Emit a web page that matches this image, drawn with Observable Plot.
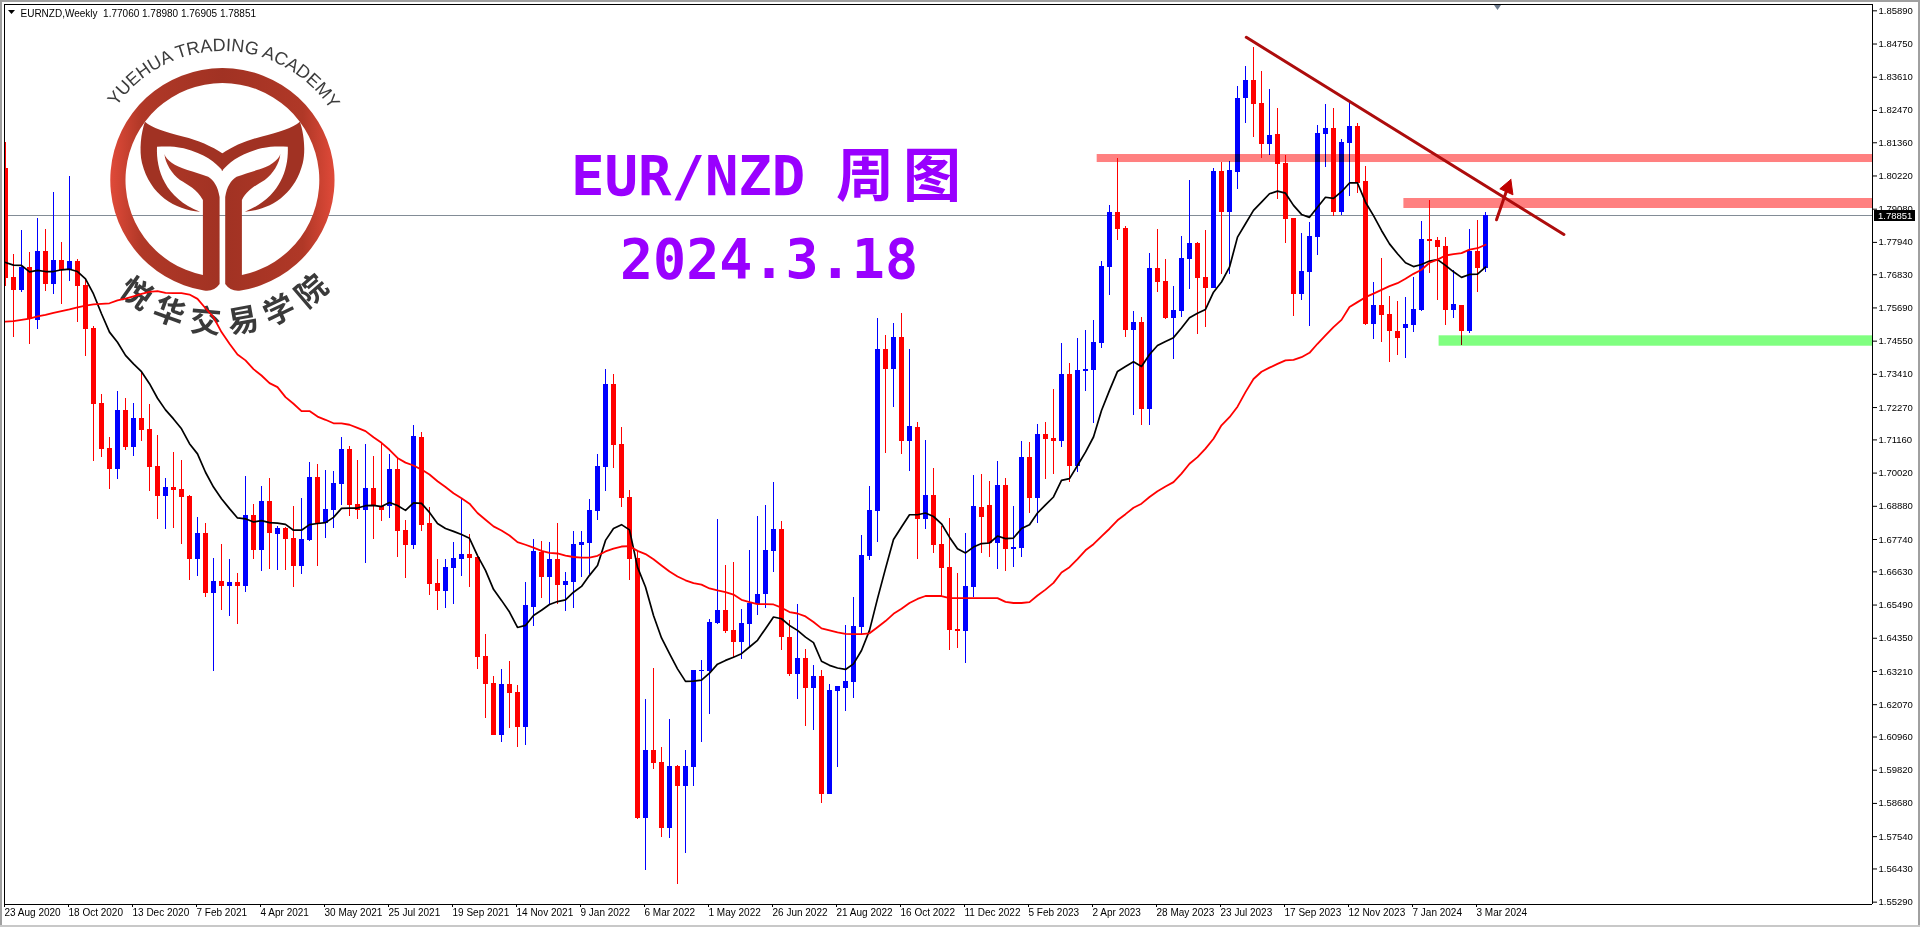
<!DOCTYPE html>
<html lang="zh">
<head>
<meta charset="utf-8">
<title>EUR/NZD 周图</title>
<script src="https://cdn.jsdelivr.net/npm/d3@7"></script>
<script src="https://cdn.jsdelivr.net/npm/@observablehq/plot@0.6"></script>
<style>
html,body{margin:0;padding:0;background:#fff;overflow:hidden}
svg{display:block;max-width:none}
</style>
</head>
<body>
<div id="chart"></div>
<script>
const opens=[1.8048,1.7673,1.7629,1.7708,1.7527,1.7763,1.7649,1.7732,1.7698,1.7728,
1.7646,1.7498,1.7241,1.7087,1.7015,1.7217,1.7090,1.7190,1.7152,1.7025,
1.6922,1.6953,1.6946,1.6922,1.6706,1.6795,1.6589,1.6630,1.6613,1.6627,
1.6613,1.6857,1.6736,1.6905,1.6791,1.6812,1.6778,1.6682,1.6771,1.6987,
1.6829,1.6874,1.6963,1.7083,1.6894,1.6874,1.6949,1.6887,1.6887,1.7014,
1.6805,1.6754,1.7124,1.6829,1.6623,1.6596,1.6675,1.6706,1.6723,1.6712,
1.6373,1.6280,1.6102,1.6277,1.6249,1.6129,1.6541,1.6730,1.6644,1.6706,
1.6616,1.6627,1.6754,1.6760,1.6870,1.7021,1.7306,1.7100,1.6918,1.6709,
1.5817,1.6050,1.6009,1.5782,1.5995,1.5926,1.5992,1.6321,1.6321,1.6486,
1.6530,1.6462,1.6421,1.6483,1.6551,1.6586,1.6733,1.6809,1.6438,1.6311,
1.6366,1.6263,1.6304,1.5899,1.6253,1.6263,1.6283,1.6472,1.6716,1.6870,
1.7426,1.7358,1.7468,1.7111,1.7159,1.6843,1.6925,1.6757,1.6678,1.6465,
1.6458,1.6610,1.6884,1.6891,1.6761,1.6960,1.6740,1.6744,1.7056,1.6915,
1.7135,1.7121,1.7111,1.7341,1.7025,1.7351,1.7354,1.7447,1.7708,1.7897,
1.7842,1.7492,1.7519,1.7221,1.7704,1.7660,1.7533,1.7557,1.7735,1.7790,
1.7674,1.7636,1.8037,1.7897,1.8034,1.8288,1.8350,1.8271,1.8130,1.8164,
1.8065,1.7876,1.7615,1.7691,1.7811,1.8165,1.8185,1.7897,1.8134,1.8192,
1.8003,1.7512,1.7578,1.7547,1.7488,1.7499,1.7509,1.7560,1.7804,1.7801,
1.7780,1.7560,1.7578,1.7488,1.7763,1.77060];
const closes=[1.7671,1.7629,1.7708,1.7529,1.7763,1.7649,1.7732,1.7698,1.7728,1.7643,
1.7495,1.7238,1.7083,1.7015,1.7217,1.7090,1.7190,1.7148,1.7021,1.6922,
1.6953,1.6942,1.6918,1.6706,1.6795,1.6589,1.6630,1.6613,1.6627,1.6613,
1.6857,1.6736,1.6905,1.6795,1.6812,1.6774,1.6682,1.6774,1.6987,1.6829,
1.6877,1.6966,1.7083,1.6891,1.6874,1.6949,1.6887,1.6874,1.7014,1.6802,
1.6754,1.7128,1.6822,1.6620,1.6596,1.6678,1.6709,1.6723,1.6709,1.6369,
1.6277,1.6102,1.6277,1.6246,1.6129,1.6548,1.6733,1.6644,1.6706,1.6616,
1.6630,1.6757,1.6764,1.6874,1.7025,1.7306,1.7097,1.6915,1.6706,1.5817,
1.6050,1.6005,1.5782,1.5995,1.5926,1.5995,1.6325,1.6325,1.6489,1.6531,
1.6458,1.6421,1.6486,1.6555,1.6586,1.6737,1.6809,1.6438,1.6311,1.6366,
1.6263,1.6304,1.5899,1.6256,1.6270,1.6287,1.6476,1.6719,1.6874,1.7426,
1.7358,1.7468,1.7111,1.7162,1.6843,1.6925,1.6754,1.6675,1.6462,1.6458,
1.6613,1.6888,1.6850,1.6761,1.6960,1.6740,1.6747,1.7056,1.6915,1.7135,
1.7118,1.7111,1.7341,1.7025,1.7354,1.7358,1.7451,1.7711,1.7897,1.7838,
1.7492,1.7519,1.7221,1.7704,1.7656,1.7533,1.7560,1.7739,1.7790,1.7670,
1.7636,1.8037,1.7897,1.8041,1.8288,1.8350,1.8267,1.8130,1.8161,1.8061,
1.7873,1.7615,1.7694,1.7814,1.8168,1.8185,1.7897,1.8137,1.8192,1.7996,
1.7512,1.7578,1.7543,1.7488,1.7464,1.7512,1.7564,1.7804,1.7797,1.7777,
1.7560,1.7581,1.7488,1.7763,1.7705,1.78851];
const highs=[1.8137,1.7752,1.7835,1.7759,1.7876,1.7838,1.7965,1.7794,1.8020,1.7735,
1.7669,1.7505,1.7272,1.7124,1.7282,1.7258,1.7241,1.7347,1.7238,1.7131,
1.6984,1.7073,1.7045,1.6925,1.6850,1.6829,1.6709,1.6757,1.6705,1.6658,
1.6990,1.6894,1.6956,1.6984,1.6819,1.6815,1.6887,1.6915,1.7038,1.7032,
1.7011,1.7008,1.7124,1.7093,1.7045,1.7100,1.7059,1.7107,1.7066,1.7052,
1.6839,1.7166,1.7141,1.6884,1.6706,1.6706,1.6764,1.6911,1.6791,1.6716,
1.6448,1.6304,1.6328,1.6355,1.6273,1.6627,1.6774,1.6767,1.6764,1.6829,
1.6661,1.6802,1.6802,1.6911,1.7066,1.7358,1.7340,1.7159,1.6942,1.6737,
1.6225,1.6331,1.6060,1.6156,1.5999,1.6050,1.6325,1.6359,1.6500,1.6843,
1.6685,1.6695,1.6534,1.6737,1.6853,1.6891,1.6970,1.6836,1.6496,1.6551,
1.6397,1.6342,1.6325,1.6277,1.6270,1.6479,1.6575,1.6788,1.6956,1.7533,
1.7474,1.7516,1.7550,1.7426,1.7176,1.7114,1.7018,1.6819,1.6846,1.6658,
1.6795,1.6994,1.6997,1.6973,1.7042,1.6984,1.6888,1.7111,1.7107,1.7169,
1.7176,1.7289,1.7447,1.7378,1.7464,1.7492,1.7526,1.7729,1.7921,1.8082,
1.7849,1.7557,1.7536,1.7756,1.7838,1.7735,1.7643,1.7814,1.8006,1.7794,
1.7835,1.8049,1.8069,1.8072,1.8329,1.8398,1.8463,1.8381,1.8319,1.8254,
1.8092,1.7876,1.7825,1.7862,1.8195,1.8267,1.8254,1.8147,1.8281,1.8202,
1.8055,1.7657,1.7739,1.7609,1.7591,1.7605,1.7674,1.7866,1.7938,1.7811,
1.7811,1.7698,1.7578,1.7838,1.7869,1.78980];
const lows=[1.7644,1.7469,1.7622,1.7445,1.7495,1.7627,1.7615,1.7581,1.7660,1.7519,
1.7402,1.7042,1.7056,1.6946,1.6980,1.7080,1.7059,1.7111,1.6939,1.6843,
1.6809,1.6812,1.6757,1.6634,1.6647,1.6576,1.6321,1.6530,1.6510,1.6482,
1.6592,1.6706,1.6664,1.6671,1.6668,1.6668,1.6610,1.6654,1.6767,1.6682,
1.6778,1.6812,1.6891,1.6853,1.6843,1.6692,1.6774,1.6836,1.6846,1.6712,
1.6640,1.6740,1.6802,1.6582,1.6530,1.6537,1.6551,1.6647,1.6610,1.6328,
1.6160,1.6102,1.6078,1.6126,1.6060,1.6067,1.6476,1.6572,1.6551,1.6551,
1.6527,1.6537,1.6644,1.6654,1.6839,1.6939,1.7017,1.6884,1.6633,1.5813,
1.5638,1.5985,1.5751,1.5748,1.5590,1.5697,1.5926,1.6078,1.6174,1.6482,
1.6452,1.6369,1.6362,1.6404,1.6513,1.6538,1.6661,1.6393,1.6304,1.6225,
1.6133,1.6119,1.5868,1.5899,1.5992,1.6184,1.6229,1.6448,1.6702,1.6764,
1.7069,1.7227,1.7066,1.7008,1.6706,1.6809,1.6726,1.6579,1.6393,1.6400,
1.6349,1.6575,1.6726,1.6713,1.6671,1.6665,1.6678,1.6713,1.6864,1.6829,
1.6980,1.6997,1.7090,1.6970,1.7004,1.7282,1.7172,1.7430,1.7612,1.7801,
1.7468,1.7200,1.7166,1.7166,1.7622,1.7529,1.7392,1.7536,1.7632,1.7478,
1.7502,1.7636,1.7684,1.7684,1.7976,1.8202,1.8154,1.8082,1.8092,1.7941,
1.7790,1.7540,1.7595,1.7506,1.7749,1.8051,1.7883,1.7886,1.7952,1.7962,
1.7509,1.7461,1.7451,1.7382,1.7406,1.7396,1.7485,1.7557,1.7687,1.7595,
1.7509,1.7533,1.7440,1.7481,1.7622,1.76905];
const maFast=[1.7725,1.7716,1.7715,1.7693,1.7698,1.7694,1.7694,1.7700,1.7702,1.7694,
1.7669,1.7617,1.7549,1.7486,1.7451,1.7406,1.7377,1.7350,1.7309,1.7259,
1.7219,1.7188,1.7154,1.7103,1.7068,1.7005,1.6954,1.6914,1.6880,1.6848,
1.6845,1.6834,1.6839,1.6832,1.6830,1.6826,1.6806,1.6806,1.6825,1.6829,
1.6832,1.6850,1.6881,1.6882,1.6882,1.6890,1.6891,1.6887,1.6901,1.6891,
1.6874,1.6900,1.6898,1.6867,1.6829,1.6812,1.6802,1.6791,1.6778,1.6719,
1.6668,1.6603,1.6565,1.6525,1.6472,1.6479,1.6513,1.6531,1.6551,1.6561,
1.6567,1.6593,1.6613,1.6651,1.6685,1.6771,1.6812,1.6825,1.6807,1.6679,
1.6611,1.6513,1.6436,1.6382,1.6330,1.6287,1.6288,1.6291,1.6315,1.6346,
1.6359,1.6370,1.6382,1.6405,1.6428,1.6468,1.6508,1.6502,1.6479,1.6462,
1.6439,1.6420,1.6356,1.6342,1.6333,1.6328,1.6347,1.6393,1.6462,1.6571,
1.6674,1.6774,1.6817,1.6859,1.6859,1.6865,1.6853,1.6828,1.6782,1.6742,
1.6728,1.6748,1.6760,1.6762,1.6786,1.6777,1.6779,1.6812,1.6825,1.6865,
1.6893,1.6920,1.6977,1.6983,1.7028,1.7074,1.7126,1.7217,1.7286,1.7351,
1.7368,1.7384,1.7368,1.7409,1.7440,1.7454,1.7467,1.7500,1.7535,1.7551,
1.7564,1.7623,1.7658,1.7709,1.7812,1.7858,1.7904,1.7932,1.7961,1.7970,
1.7963,1.7921,1.7890,1.7880,1.7915,1.7949,1.7945,1.7968,1.7998,1.7998,
1.7932,1.7886,1.7835,1.7789,1.7755,1.7724,1.7711,1.7718,1.7730,1.7735,
1.7715,1.7693,1.7674,1.7684,1.7685,1.7709];
const maSlow=[1.7522,1.7524,1.7528,1.7532,1.7540,1.7545,1.7552,1.7558,1.7564,1.7571,
1.7577,1.7581,1.7583,1.7585,1.7595,1.7601,1.7609,1.7617,1.7624,1.7627,
1.7621,1.7620,1.7620,1.7615,1.7600,1.7568,1.7537,1.7486,1.7446,1.7409,
1.7389,1.7359,1.7337,1.7311,1.7297,1.7263,1.7240,1.7215,1.7215,1.7196,
1.7185,1.7173,1.7173,1.7168,1.7157,1.7146,1.7125,1.7106,1.7082,1.7054,
1.7038,1.7028,1.7014,1.6997,1.6974,1.6954,1.6933,1.6916,1.6897,1.6865,
1.6842,1.6819,1.6805,1.6788,1.6765,1.6756,1.6746,1.6735,1.6728,1.6726,
1.6719,1.6714,1.6712,1.6712,1.6718,1.6733,1.6743,1.6750,1.6751,1.6735,
1.6724,1.6706,1.6685,1.6664,1.6647,1.6634,1.6624,1.6619,1.6606,1.6599,
1.6593,1.6585,1.6567,1.6559,1.6552,1.6552,1.6551,1.6540,1.6525,1.6520,
1.6510,1.6491,1.6469,1.6462,1.6455,1.6450,1.6449,1.6449,1.6452,1.6473,
1.6494,1.6519,1.6536,1.6556,1.6570,1.6580,1.6580,1.6580,1.6573,1.6573,
1.6573,1.6573,1.6573,1.6573,1.6573,1.6560,1.6556,1.6556,1.6559,1.6582,
1.6602,1.6625,1.6661,1.6679,1.6707,1.6737,1.6758,1.6785,1.6811,1.6840,
1.6861,1.6883,1.6897,1.6920,1.6940,1.6956,1.6971,1.7000,1.7034,1.7057,
1.7086,1.7120,1.7166,1.7194,1.7230,1.7280,1.7325,1.7350,1.7364,1.7377,
1.7389,1.7391,1.7400,1.7415,1.7446,1.7475,1.7503,1.7528,1.7572,1.7589,
1.7606,1.7618,1.7631,1.7644,1.7654,1.7669,1.7686,1.7700,1.7724,1.7735,
1.7749,1.7754,1.7757,1.7769,1.7774,1.7786];

const dateLabels=["23 Aug 2020","18 Oct 2020","13 Dec 2020","7 Feb 2021","4 Apr 2021","30 May 2021","25 Jul 2021","19 Sep 2021","14 Nov 2021","9 Jan 2022","6 Mar 2022","1 May 2022","26 Jun 2022","21 Aug 2022","16 Oct 2022","11 Dec 2022","5 Feb 2023","2 Apr 2023","28 May 2023","23 Jul 2023","17 Sep 2023","12 Nov 2023","7 Jan 2024","3 Mar 2024"];
const dateTickStep=8;
const priceTicks=[1.85890,1.84750,1.83610,1.82470,1.81360,1.80220,1.79080,1.77940,1.76830,1.75690,1.74550,1.73410,1.72270,1.71160,1.70020,1.68880,1.67740,1.66630,1.65490,1.64350,1.63210,1.62070,1.60960,1.59820,1.58680,1.57540,1.56430,1.55290];

const lastPrice=1.78851;
const symbolLine="EURNZD,Weekly  1.77060 1.78980 1.76905 1.78851";
const trendX=[155.1,194.8], trendY=[1.8498,1.7821];
const arrowShaftX=[186.375,187.6], arrowShaftY=[1.78715,1.79687];
const arrowHeadX=[188.17,186.79,188.43,188.17], arrowHeadY=[1.80099,1.79779,1.79574,1.80099];
const zones=[
  {x1:136.46,y1:1.80682,y2:1.80957,fill:"#ff8080"},
  {x1:174.8,y1:1.79104,y2:1.79447,fill:"#ff8080"},
  {x1:179.2,y1:1.74376,y2:1.74733,fill:"#80ff80"}
];

const candles=opens.map((o,i)=>({i,open:o,close:closes[i],high:highs[i],low:lows[i],color:closes[i]>=o?"#0000ff":"#ff0000"}));
const fastLine=maFast.map((v,i)=>({i,v}));
const slowLine=maSlow.map((v,i)=>({i,v}));
const W=1920,H=927,L=4,R=1872,T=4,B=904;
const xDomain=[-1/8,(R-5)/8];
const yDomain=[1.86107,1.55210];

const NS="http://www.w3.org/2000/svg";
function group(html){const g=document.createElementNS(NS,"g");g.setAttribute("text-anchor","start");g.innerHTML=html;return g;}

const logoHalf=`M223 68 L222.4 68 A112 112 0 0 0 204 290.5 Q214 292 219.6 284 V197 C218 187 214 180 208.2 176.7 C195 172 178 168 172 163 C168 160 165 157 164.5 154 C165 163 172 174 180 180 C188 185 197 189 202.9 200 V275 A97 97 0 0 1 222.4 83 L223 83 Z`;
const logoWing=`M144.9 121.7 C152 128 165 132 183.7 136.7 C197 140 212 146 223 153.8 V171 C215 162 205 154 183.7 148.3 C173 146 165 146.5 157 146.7 C156 170 165 198 200 211.7 C175 210 150 195 142 163 C139 150 141 133 144.9 121.7 Z`;
const logoMark=()=>group(`
<defs>
<linearGradient id="ringGrad" x1="0" x2="1" y1="0" y2="0">
<stop offset="0" stop-color="#e04a39"/><stop offset=".28" stop-color="#b03827"/><stop offset="1" stop-color="#a13223"/>
</linearGradient>
<path id="arcTop" d="M93.4 180 A129 129 0 0 1 351.4 180"/>
<path id="arcBot" d="M69.4 180 A153 153 0 0 0 375.4 180"/>
</defs>
<path d="${logoHalf}" fill="url(#ringGrad)"/>
<path d="${logoHalf}" fill="url(#ringGrad)" transform="translate(444.8 0) scale(-1 1)"/>
<path d="${logoWing}" fill="#a13223"/>
<path d="${logoWing}" fill="#a13223" transform="translate(444.8 0) scale(-1 1)"/>
<text font-family="Liberation Sans" font-size="18" fill="#3c3c3c"><textPath href="#arcTop" startOffset="50.5%" text-anchor="middle">YUEHUA TRADING ACADEMY</textPath></text>
<text font-family="Noto Sans CJK SC" font-size="31" font-weight="700" fill="#3a3a3a" letter-spacing="9.5"><textPath href="#arcBot" startOffset="51.5%" text-anchor="middle">悦华交易学院</textPath></text>
`);

const overlays=(index,scales)=>{
  const yP=scales.y(lastPrice);
  return group(`
<text x="571" y="195" font-family="DejaVu Sans Mono" font-weight="700" font-size="55.6" fill="#9900ff">EUR/NZD</text>
<text x="836" y="196" font-family="Noto Sans CJK SC" font-weight="700" font-size="58" fill="#9900ff" letter-spacing="9">周图</text>
<text x="620" y="278" font-family="DejaVu Sans Mono" font-weight="700" font-size="55" fill="#9900ff">2024.3.18</text>
<path d="M8 10 H15 L11.5 14 Z" fill="#000"/>
<text x="20.5" y="16.5" font-family="Liberation Sans" font-size="10" fill="#000" xml:space="preserve" style="white-space:pre">${symbolLine}</text>
<path d="M1494 5 H1501 L1497.5 10 Z" fill="#6d7b8d"/>
<rect x="1874" y="${Math.round(yP)-5}" width="41" height="11" fill="#000"/>
<text x="1878" y="${Math.round(yP)+4}" font-family="Liberation Sans" font-size="9.5" fill="#fff">${lastPrice.toFixed(5)}</text>
<path d="M1 927 V1 H1919 V927 H1" fill="none" stroke="#a0a0a0" stroke-width="2"/>
<path d="M0 926 H1920" stroke="#c8c8c8" stroke-width="2"/>
`);
};

const chart=Plot.plot({
  width:W,height:H,
  marginLeft:L,marginRight:W-R,marginTop:T,marginBottom:H-B,
  style:{background:"#fff",fontFamily:"Liberation Sans",overflow:"hidden"},
  x:{type:"linear",domain:xDomain,range:[L,R]},
  y:{type:"linear",domain:yDomain,range:[T,B]},
  marks:[
    Plot.ruleY([lastPrice],{stroke:"#828c96",strokeWidth:1,shapeRendering:"crispEdges"}),
    logoMark,
    Plot.ruleX(candles,{x:"i",y1:"low",y2:"high",stroke:"color",strokeWidth:1,shapeRendering:"crispEdges",clip:true}),
    Plot.ruleX(candles,{x:"i",y1:"open",y2:"close",stroke:"color",strokeWidth:5,shapeRendering:"crispEdges",clip:true}),
    Plot.line(fastLine,{x:"i",y:"v",stroke:"#000",strokeWidth:1.7,curve:"linear"}),
    Plot.line(slowLine,{x:"i",y:"v",stroke:"#ff0000",strokeWidth:1.8,curve:"linear"}),
    Plot.rect(zones,{x1:"x1",x2:()=>xDomain[1]+0.1,y1:"y1",y2:"y2",fill:"fill",mixBlendMode:"multiply"}),
    Plot.line(trendX.map((x,k)=>({x,y:trendY[k]})),{x:"x",y:"y",stroke:"#ad0c0c",strokeWidth:3}),
    Plot.line(arrowShaftX.map((x,k)=>({x,y:arrowShaftY[k]})),{x:"x",y:"y",stroke:"#b30a0a",strokeWidth:3}),
    Plot.line(arrowHeadX.map((x,k)=>({x,y:arrowHeadY[k]})),{x:"x",y:"y",stroke:"#bf0000",fill:"#bf0000",strokeWidth:1}),
    Plot.ruleX([xDomain[0],xDomain[1]],{stroke:"#000",strokeWidth:1,shapeRendering:"crispEdges"}),
    Plot.ruleY([yDomain[0],yDomain[1]],{stroke:"#000",strokeWidth:1,shapeRendering:"crispEdges"}),
    Plot.axisX(dateLabels.map((_,k)=>k*dateTickStep),{
      anchor:"bottom",label:null,tickSize:3,tickPadding:1,
      tickFormat:d=>dateLabels[d/dateTickStep],
      textAnchor:"start",dx:-1,fontSize:10,stroke:"#000",color:"#000",fill:"#000"
    }),
    Plot.axisY(priceTicks,{
      anchor:"right",label:null,tickSize:4,tickPadding:2,
      tickFormat:d=>d.toFixed(5),textAnchor:"start",fontSize:9.5,stroke:"#000",fill:"#000"
    }),
    overlays
  ]
});
document.getElementById("chart").appendChild(chart);
</script>
</body>
</html>
